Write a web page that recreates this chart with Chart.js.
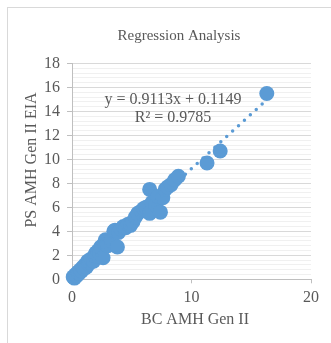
<!DOCTYPE html>
<html>
<head>
<meta charset="utf-8">
<script src="https://cdn.jsdelivr.net/npm/chart.js@4"></script>
<style>
  html, body { margin: 0; padding: 0; background: #ffffff; }
  #wrap { position: relative; width: 331px; height: 343px; }
</style>
</head>
<body>
<div id="wrap"><canvas id="c" width="331" height="343"></canvas></div>
<script>
// ---- data ----
const bcAMH = [0.1,0.2,0.3,0.4,0.5,0.6,0.7,0.8,0.9,1.0,1.1,1.2,1.3,1.4,1.5,1.6,
  1.8,1.9,2.0,2.1,2.2,2.3,2.4,2.5,2.6,2.7,2.8,2.9,3.0,
  3.3,3.5,3.6,3.8,3.9,4.1,4.3,4.5,4.7,4.9,5.1,5.3,5.5,5.8,
  6.0,6.2,6.5,6.5,6.7,7.0,7.2,7.4,7.6,7.8,8.0,8.3,8.6,8.9,11.3,12.4,16.3];
const psAMH = [0.2,0.1,0.4,0.3,0.6,0.5,0.8,0.7,1.0,0.9,1.2,1.0,1.5,1.3,1.4,1.7,
  1.5,2.0,2.2,1.9,2.4,2.2,2.7,2.5,1.8,3.0,3.3,2.9,2.8,
  3.2,4.0,4.1,2.7,3.9,4.2,4.4,4.3,4.6,4.5,4.8,5.2,5.5,5.7,
  5.9,6.0,5.5,7.5,6.4,6.2,6.9,5.6,6.8,7.5,7.7,7.9,8.3,8.6,9.7,10.7,15.5];
const trendX = [0.1, 16.3];
const trendY = [0.21, 14.97];
const xTicks = [0, 10, 20];
const yMajorTicks = [0, 2, 4, 6, 8, 10, 12, 14, 16, 18];
const titleText = 'Regression Analysis';
const xTitle = 'BC AMH Gen II';
const yTitle = 'PS AMH Gen II EIA';
const equationLines = ['y = 0.9113x + 0.1149', 'R² = 0.9785'];

const scatterPts = bcAMH.map((x, i) => ({x: x, y: psAMH[i]}));
const trendPts = trendX.map((x, i) => ({x: x, y: trendY[i]}));

const isMajor = v => yMajorTicks.some(m => Math.abs(m - v) < 1e-6);
const textColor = '#595959';
const serif = '"Liberation Serif", "Times New Roman", serif';

const decor = {
  id: 'decor',
  beforeDraw(chart) {
    const ctx = chart.ctx;
    ctx.save();
    ctx.strokeStyle = '#d9d9d9';
    ctx.lineWidth = 1;
    ctx.strokeRect(7.5, 7.5, 400, 400);
    ctx.restore();
  },
  afterDraw(chart) {
    const ctx = chart.ctx;
    ctx.save();
    ctx.fillStyle = textColor;
    ctx.textAlign = 'center';
    ctx.textBaseline = 'middle';
    ctx.font = '15px ' + serif;
    ctx.fillText(titleText, 179, 36);
    ctx.font = '16px ' + serif;
    ctx.fillText(equationLines[0], 173, 100);
    ctx.fillText(equationLines[1], 173, 118);
    ctx.fillText(xTitle, 195, 319.5);
    ctx.translate(32, 160);
    ctx.rotate(-Math.PI / 2);
    ctx.fillText(yTitle, 0, 0);
    ctx.restore();
  }
};

new Chart(document.getElementById('c'), {
  type: 'scatter',
  data: {
    datasets: [
      {
        type: 'line',
        data: trendPts,
        borderColor: '#5B9BD5',
        borderWidth: 3.5,
        borderDash: [0, 8],
        borderCapStyle: 'round',
        pointRadius: 0,
        fill: false,
        clip: false,
        order: 0
      },
      {
        data: scatterPts,
        backgroundColor: '#5B9BD5',
        borderColor: '#5B9BD5',
        borderWidth: 0,
        pointRadius: 7.5,
        pointHoverRadius: 7.5,
        clip: false,
        order: 1
      }
    ]
  },
  options: {
    responsive: false,
    animation: false,
    events: [],
    layout: { padding: { top: 63.5, left: 0, right: 20, bottom: 0 } },
    plugins: { legend: { display: false }, tooltip: { enabled: false }, title: { display: false } },
    scales: {
      x: {
        type: 'linear',
        min: 0, max: 20,
        afterBuildTicks: s => { s.ticks = xTicks.map(v => ({value: v})); },
        afterFit: s => { s.height = 63.7; },
        grid: { drawOnChartArea: false, drawTicks: true, tickLength: 4, color: '#bfbfbf', tickColor: '#bfbfbf' },
        border: { display: true, color: '#bfbfbf', width: 1 },
        ticks: { color: textColor, font: { family: serif, size: 16 }, padding: 4.4, maxRotation: 0 },
        title: { display: false }
      },
      y: {
        type: 'linear',
        min: 0, max: 18,
        ticks: {
          stepSize: 0.4,
          autoSkip: false,
          color: textColor,
          font: { family: serif, size: 16 },
          padding: 7,
          callback: v => isMajor(v) ? String(Math.round(v)) : ''
        },
        afterFit: s => { s.width = 72; },
        grid: {
          drawOnChartArea: true,
          drawTicks: true,
          tickLength: 5,
          color: c => isMajor(c.tick.value) ? '#d9d9d9' : '#f0f0f0',
          tickColor: c => isMajor(c.tick.value) ? '#bfbfbf' : 'rgba(0,0,0,0)'
        },
        border: { display: true, color: '#bfbfbf', width: 1 },
        title: { display: false }
      }
    }
  },
  plugins: [decor]
});
</script>
</body>
</html>
